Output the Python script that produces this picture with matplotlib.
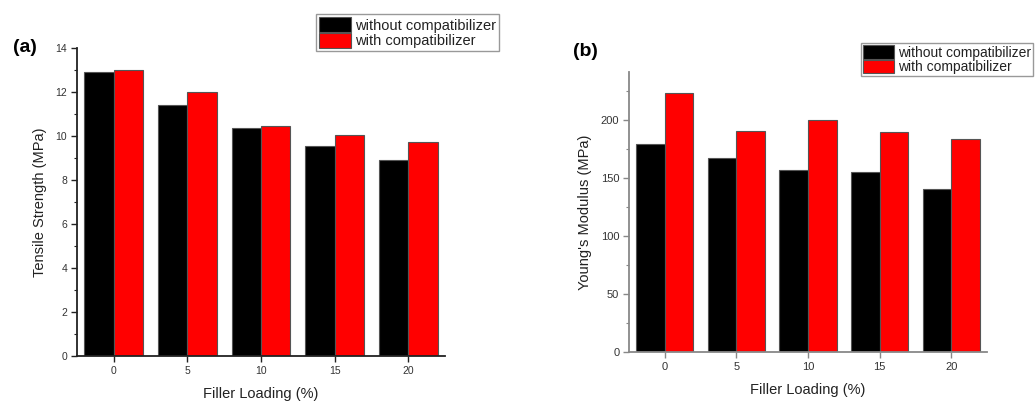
import matplotlib
matplotlib.use("Agg")
import matplotlib.pyplot as plt
from matplotlib.ticker import MultipleLocator
import numpy as np

plt.rcParams["font.family"] = ["Liberation Sans", "DejaVu Sans"]

# filler loading levels (wt %)
loading = ["0", "5", "10", "15", "20"]

# tensile strength, MPa
ts_without = [12.9, 11.4, 10.35, 9.55, 8.9]
ts_with = [13.0, 12.0, 10.45, 10.05, 9.75]

# Young's modulus, MPa
ym_without = [179, 167, 157, 155, 140]
ym_with = [223, 190, 200, 189, 183]

series_names = ["without compatibilizer", "with compatibilizer"]
colors = ["black", "#ff0000"]

W, H = 1035, 401
fig = plt.figure(figsize=(W / 100, H / 100), dpi=100)


def px_axes(left, top, right, bottom):
    return fig.add_axes([left / W, 1 - bottom / H, (right - left) / W, (bottom - top) / H])


def bar_panel(ax, a, b, ylim, major, minor, ylabel, spine_color, tick_size):
    x = np.arange(len(loading))
    w = 0.4
    bars = []
    for vals, c, off in [(a, colors[0], -w / 2), (b, colors[1], w / 2)]:
        bars.append(ax.bar(x + off, vals, w, color=c, edgecolor="#555555", linewidth=0.8))
    ax.set_xlim(-0.5, len(loading) - 0.5)
    ax.set_ylim(*ylim)
    ax.set_xticks(x)
    ax.set_xticklabels(loading)
    ax.yaxis.set_major_locator(MultipleLocator(major))
    ax.yaxis.set_minor_locator(MultipleLocator(minor))
    for s in ["top", "right"]:
        ax.spines[s].set_visible(False)
    for s in ["left", "bottom"]:
        ax.spines[s].set_color(spine_color)
        ax.spines[s].set_linewidth(1.3)
    ax.tick_params(axis="both", which="major", direction="out", length=4, width=1,
                   color=spine_color, labelsize=tick_size, labelcolor="#333333", pad=3)
    ax.tick_params(axis="y", which="minor", direction="out", length=2, width=0.8, color=spine_color)
    ax.tick_params(axis="x", which="minor", bottom=False)
    ax.set_xlabel("Filler Loading (%)", fontsize=10.5, color="#222222", labelpad=8)
    ax.set_ylabel(ylabel, fontsize=10.5, color="#222222", labelpad=6)
    return bars


ax1 = px_axes(77, 48, 445, 356)
bars1 = bar_panel(ax1, ts_without, ts_with, (0, 14), 2, 1,
                  "Tensile Strength (MPa)", "#222222", 7.5)

ax2 = px_axes(629, 72, 987, 352)
bars2 = bar_panel(ax2, ym_without, ym_with, (0, 241), 50, 25,
                  "Young's Modulus (MPa)", "#888888", 8)

legend_kw = dict(loc="upper left", handlelength=2.2, labelspacing=0, borderaxespad=0,
                 handletextpad=0.3, fancybox=False, framealpha=1, edgecolor="#999999")
leg1 = fig.legend(bars1, series_names, bbox_to_anchor=(316 / W, 1 - 14 / H),
                  fontsize=10.5, handleheight=1.25, borderpad=0.2, **legend_kw)
leg2 = fig.legend(bars2, series_names, bbox_to_anchor=(861 / W, 1 - 43 / H),
                  fontsize=10, handleheight=1.15, borderpad=0.15, **legend_kw)
for leg in (leg1, leg2):
    leg.get_frame().set_linewidth(1.0)
    for t in leg.get_texts():
        t.set_color("#222222")

fig.text(25 / W, 1 - 47 / H, "(a)", fontsize=14, fontweight="bold", ha="center", va="center")
fig.text(585 / W, 1 - 52 / H, "(b)", fontsize=14, fontweight="bold", ha="center", va="center")

fig.savefig("out.png", dpi=100)
